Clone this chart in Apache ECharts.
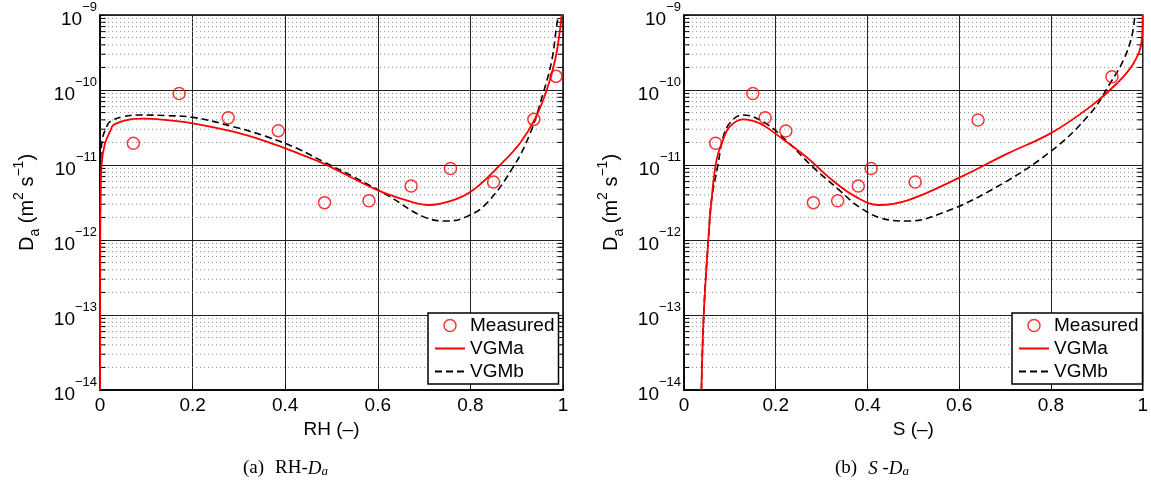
<!DOCTYPE html>
<html>
<head>
<meta charset="utf-8">
<script src="https://cdn.jsdelivr.net/npm/echarts@6/dist/echarts.min.js"></script>
<style>html,body{margin:0;padding:0;background:#fff;}#c{width:1151px;height:481px;}</style>
</head>
<body>
<div id="c"></div>
<script>
// ---------------- data ----------------
// Panel (a): RH - Da
const rhMeasX = [0.072, 0.171, 0.277, 0.385, 0.485, 0.581, 0.672, 0.757, 0.850, 0.937, 0.985];
const rhMeasY = [1.95e-11, 9.0e-11, 4.27e-11, 2.87e-11, 3.15e-12, 3.34e-12, 5.25e-12, 9.0e-12, 5.93e-12, 4.06e-11, 1.52e-10];
const rhVgmaX = [0.0003, 0.0005, 0.0014, 0.0036, 0.0108, 0.0216, 0.029, 0.058, 0.094, 0.144, 0.2, 0.288, 0.36, 0.432, 0.482, 0.598, 0.648, 0.709, 0.763, 0.806, 0.864, 0.907, 0.94, 0.965, 0.983, 0.9935, 0.997];
const rhVgmaY = [1e-14, 1.35e-12, 3.8e-12, 1.05e-11, 1.95e-11, 2.78e-11, 3.41e-11, 3.98e-11, 4.15e-11, 3.98e-11, 3.6e-11, 2.78e-11, 2.05e-11, 1.4e-11, 1.05e-11, 4.65e-12, 3.6e-12, 2.93e-12, 3.41e-12, 4.65e-12, 1.0e-11, 1.95e-11, 4.19e-11, 1.0e-10, 2.51e-10, 6.3e-10, 1e-9];
const rhVgmbX = [0.0002, 0.0005, 0.0015, 0.005, 0.0144, 0.0216, 0.05, 0.086, 0.144, 0.2, 0.288, 0.36, 0.425, 0.482, 0.554, 0.626, 0.698, 0.749, 0.792, 0.835, 0.893, 0.929, 0.957, 0.976, 0.986, 0.99];
const rhVgmbY = [1e-14, 1e-12, 1e-11, 2.2e-11, 3.24e-11, 3.79e-11, 4.41e-11, 4.65e-11, 4.55e-11, 4.33e-11, 3.24e-11, 2.39e-11, 1.67e-11, 1.11e-11, 6.64e-12, 3.79e-12, 2.05e-12, 1.79e-12, 2.05e-12, 3.08e-12, 9.5e-12, 2.64e-11, 9.0e-11, 2.51e-10, 6.98e-10, 1e-9];

// Panel (b): S - Da
const sMeasX = [0.069, 0.150, 0.177, 0.222, 0.282, 0.335, 0.380, 0.408, 0.504, 0.641, 0.933];
const sMeasY = [1.95e-11, 9.0e-11, 4.27e-11, 2.84e-11, 3.15e-12, 3.34e-12, 5.25e-12, 9.0e-12, 5.93e-12, 3.98e-11, 1.5e-10];
const sVgmaX = [0.038, 0.043, 0.053, 0.06, 0.071, 0.085, 0.0996, 0.128, 0.1645, 0.208, 0.266, 0.323, 0.374, 0.424, 0.489, 0.597, 0.706, 0.799, 0.886, 0.944, 0.98, 0.998, 1.0];
const sVgmaY = [1e-14, 1e-13, 1e-12, 3.41e-12, 1.17e-11, 2.15e-11, 3.24e-11, 4.06e-11, 3.6e-11, 2.39e-11, 1.29e-11, 6.3e-12, 3.79e-12, 2.93e-12, 3.41e-12, 6.64e-12, 1.43e-11, 2.64e-11, 6.0e-11, 1.23e-10, 2.27e-10, 4.65e-10, 1e-9];
const sVgmbX = [0.038, 0.043, 0.053, 0.06, 0.074, 0.085, 0.0996, 0.128, 0.172, 0.222, 0.28, 0.338, 0.381, 0.431, 0.489, 0.561, 0.67, 0.799, 0.886, 0.929, 0.958, 0.976, 0.983];
const sVgmbY = [1e-14, 1e-13, 1e-12, 3.41e-12, 1e-11, 2.3e-11, 3.6e-11, 4.65e-11, 3.79e-11, 2.15e-11, 9.5e-12, 4.65e-12, 2.78e-12, 1.95e-12, 1.79e-12, 2.27e-12, 4.65e-12, 1.51e-11, 4.89e-11, 1.23e-10, 2.51e-10, 5.14e-10, 1e-9];

// axis / tick definitions
const xTicks = [0, 0.2, 0.4, 0.6, 0.8, 1];
const yDecadeExps = [-14, -13, -12, -11, -10, -9];
const minorMantissas = [2, 3, 4, 5, 6, 7, 8, 9];
const seriesNames = ['Measured', 'VGMa', 'VGMb'];
const xNames = ['RH (–)', 'S (–)'];

// ---------------- helpers ----------------
const zip = (xs, ys) => xs.map((x, i) => [x, ys[i]]);
const FONT = 'Liberation Sans, Arial, Helvetica, sans-serif';
const SERIF = 'Liberation Serif, Times New Roman, serif';
const minorVals = [];
yDecadeExps.slice(0, -1).forEach(e => minorMantissas.forEach(m => minorVals.push(Number(m + 'e' + e))));

const grids = [
  {left: 100, top: 15, width: 463, height: 375},
  {left: 684, top: 15, width: 462, height: 375}
];

function xAxisOf(i) {
  return {
    type: 'value', gridIndex: i, min: xTicks[0], max: xTicks[xTicks.length - 1], interval: 0.2,
    name: xNames[i], nameLocation: 'middle', nameGap: 27,
    nameTextStyle: {fontSize: 19, color: '#000', fontFamily: FONT},
    axisLine: {show: true, lineStyle: {color: '#000', width: 1.5}},
    axisTick: {show: true, inside: true, length: 5, lineStyle: {color: '#000'}},
    axisLabel: {fontSize: 19, color: '#000', fontFamily: FONT, margin: 6},
    splitLine: {show: true, lineStyle: {color: '#222', width: 1, type: 'solid'}}
  };
}
function yAxisOf(i) {
  return {
    type: 'log', logBase: 10, gridIndex: i, min: 1e-14, max: 1e-9, interval: 1,
    name: '{n|D}{sb|a}{n| (m}{sp|2}{n| s}{sp|−1}{n|)}',
    nameLocation: 'middle', nameGap: 58, nameRotate: 90,
    nameTextStyle: {
      color: '#000', fontFamily: FONT,
      rich: {
        n: {fontSize: 20, fontFamily: FONT, color: '#000', lineHeight: 30, verticalAlign: 'middle'},
        sp: {fontSize: 14, fontFamily: FONT, color: '#000', lineHeight: 14, verticalAlign: 'top'},
        sb: {fontSize: 14, fontFamily: FONT, color: '#000', lineHeight: 14, verticalAlign: 'bottom'}
      }
    },
    axisLine: {show: true, lineStyle: {color: '#000', width: 1.5}},
    axisTick: {show: true, inside: true, length: 5, lineStyle: {color: '#000'}},
    axisLabel: {
      margin: 3, color: '#000',
      formatter: function (v) {
        const e = Math.round(Math.log10(v));
        return '{b|10}{s|' + (e < 0 ? '−' : '') + Math.abs(e) + '}';
      },
      rich: {
        b: {fontSize: 19, fontFamily: FONT, color: '#000', lineHeight: 28, verticalAlign: 'bottom'},
        s: {fontSize: 13, fontFamily: FONT, color: '#000', lineHeight: 13, verticalAlign: 'top'}
      }
    },
    splitLine: {show: true, lineStyle: {color: '#222', width: 1, type: 'solid'}}
  };
}

// minor grid (dotted) and minor ticks drawn as broken line series through the axes
function segSeries(i, x0, x1, style, z) {
  const data = [];
  minorVals.forEach(v => { data.push([x0, v]); data.push([x1, v]); data.push([x1, '-']); });
  return {
    type: 'line', name: '_minor', xAxisIndex: i, yAxisIndex: i, z: z, silent: true,
    data: data, showSymbol: false, symbol: 'none', connectNulls: false,
    lineStyle: style, itemStyle: {color: style.color}, emphasis: {disabled: true}, tooltip: {show: false}
  };
}
function minorSeries(i) {
  return [
    segSeries(i, 0, 1, {color: '#8a8a8a', width: 1, type: [1, 3]}, 1),
    segSeries(i, 0, 0.012, {color: '#000', width: 1, type: 'solid'}, 2),
    segSeries(i, 0.988, 1, {color: '#000', width: 1, type: 'solid'}, 2)
  ];
}

function panelSeries(i, mx, my, ax, ay, bx, by) {
  return [
    {
      type: 'scatter', name: seriesNames[0], xAxisIndex: i, yAxisIndex: i, z: 5,
      data: zip(mx, my), symbol: 'circle', symbolSize: 12,
      itemStyle: {color: 'rgba(255,255,255,0)', borderColor: '#ff0000', borderWidth: 1.5}
    },
    {
      type: 'line', name: seriesNames[1], xAxisIndex: i, yAxisIndex: i, z: 4,
      data: zip(ax, ay), showSymbol: false, symbol: 'none', smooth: 0.4,
      lineStyle: {color: '#ff0000', width: 1.8, type: 'solid'}, itemStyle: {color: '#ff0000'}
    },
    {
      type: 'line', name: seriesNames[2], xAxisIndex: i, yAxisIndex: i, z: 3,
      data: zip(bx, by), showSymbol: false, symbol: 'none', smooth: 0.4,
      lineStyle: {color: '#000', width: 1.6, type: [7, 4]}, itemStyle: {color: '#000'}
    }
  ];
}

function legendOf(left) {
  return {
    left: left, top: 313, orient: 'vertical', selectedMode: false,
    itemWidth: 30, itemHeight: 12, itemGap: 4,
    padding: [3, 4, 3, 6], borderColor: '#000', borderWidth: 1.5, backgroundColor: '#fff',
    textStyle: {fontSize: 19, color: '#000', fontFamily: FONT},
    data: [
      {name: 'Measured', icon: 'circle', itemStyle: {color: 'rgba(255,255,255,0)', borderColor: '#ff0000', borderWidth: 1.5}},
      {name: 'VGMa', itemStyle: {opacity: 0}},
      {name: 'VGMb', itemStyle: {opacity: 0}}
    ]
  };
}

const capRich = {
  n: {fontSize: 19, fontFamily: SERIF, color: '#000'},
  g: {width: 11},
  i: {fontSize: 19, fontFamily: SERIF, fontStyle: 'italic', color: '#000'},
  is: {fontSize: 13, fontFamily: SERIF, fontStyle: 'italic', color: '#000', verticalAlign: 'bottom'}
};

const option = {
  animation: false,
  backgroundColor: '#fff',
  grid: grids.map(g => Object.assign({show: true, borderColor: '#000', borderWidth: 1.5, backgroundColor: '#fff', containLabel: false}, g)),
  xAxis: [xAxisOf(0), xAxisOf(1)],
  yAxis: [yAxisOf(0), yAxisOf(1)],
  legend: [legendOf(428), legendOf(1012)],
  series: [].concat(
    minorSeries(0), minorSeries(1),
    panelSeries(0, rhMeasX, rhMeasY, rhVgmaX, rhVgmaY, rhVgmbX, rhVgmbY),
    panelSeries(1, sMeasX, sMeasY, sVgmaX, sVgmaY, sVgmbX, sVgmbY)
  ),
  graphic: [
    {type: 'text', left: 243, top: 459, style: {text: '{n|(a)}{g|}{n|RH-}{i|D}{is|a}', rich: capRich, fontSize: 19}},
    {type: 'text', left: 835, top: 459, style: {text: '{n|(b)}{g|}{i|S}{n| -}{i|D}{is|a}', rich: capRich, fontSize: 19}}
  ]
};

const chart = echarts.init(document.getElementById('c'), null, {renderer: 'canvas'});
chart.setOption(option);
</script>
</body>
</html>
